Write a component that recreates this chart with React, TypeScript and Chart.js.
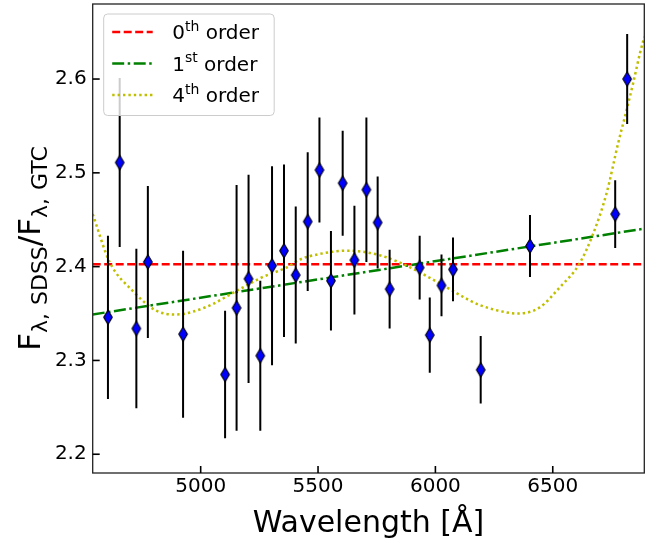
import React, { useEffect, useRef } from 'react';
import { Chart, registerables } from 'chart.js';

Chart.register(...registerables);

// ---- data ----
const wavelength = [4605, 4655, 4726, 4775, 4925, 5104, 5153, 5204, 5254, 5304, 5355, 5405, 5456, 5506, 5555, 5605, 5655, 5706, 5754, 5805, 5933, 5976, 6026, 6075, 6193, 6403, 6766, 6817];
const ratio = [2.346, 2.511, 2.334, 2.405, 2.328, 2.285, 2.356, 2.387, 2.305, 2.401, 2.417, 2.391, 2.448, 2.503, 2.385, 2.489, 2.407, 2.482, 2.447, 2.376, 2.399, 2.327, 2.380, 2.397, 2.290, 2.422, 2.456, 2.600];
const ratioErr = [0.087, 0.090, 0.085, 0.081, 0.089, 0.068, 0.131, 0.111, 0.080, 0.106, 0.092, 0.073, 0.074, 0.056, 0.053, 0.056, 0.058, 0.077, 0.049, 0.042, 0.034, 0.040, 0.033, 0.034, 0.036, 0.033, 0.036, 0.048];

const fit0X = [4540, 6890];
const fit0Y = [2.4025, 2.4025];
const fit1X = [4540, 6890];
const fit1Y = [2.349, 2.4405];
const fit4X = [4540, 4612, 4711, 4811, 4896, 5024, 5152, 5265, 5365, 5422, 5507, 5621, 5706, 5791, 5877, 5962, 6047, 6146, 6189, 6317, 6352, 6445, 6530, 6612, 6672, 6729, 6778, 6814, 6842, 6871, 6890];
const fit4Y = [2.456, 2.405, 2.374, 2.353, 2.349, 2.357, 2.374, 2.389, 2.399, 2.4075, 2.4135, 2.417, 2.4153, 2.41, 2.401, 2.390, 2.378, 2.364, 2.359, 2.3506, 2.350, 2.3566, 2.378, 2.4025, 2.435, 2.478, 2.531, 2.5665, 2.595, 2.627, 2.645];

const xTicks = [5000, 5500, 6000, 6500];
const yTicks = [2.2, 2.3, 2.4, 2.5, 2.6];
const xRange = [4540, 6890];
const yRange = [2.18, 2.68];

const legendNum = ['0', '1', '4'];
const legendSup = ['th', 'st', 'th'];
const legendRest = ' order';
const xTitle = 'Wavelength [Å]';
const yTitleParts = [
  { text: 'F', sub: false, gap: 0 },
  { text: 'λ,', sub: true, gap: 8 },
  { text: 'SDSS', sub: true, gap: 0 },
  { text: '/F', sub: false, gap: 0 },
  { text: 'λ,', sub: true, gap: 8 },
  { text: 'GTC', sub: true, gap: 0 },
];

const FONT = '"DejaVu Sans", sans-serif';
const lineColors = ['#ff0000', '#008000', '#bfbf00'];
const lineDashes = [[8, 3.5], [12, 3.5, 2.5, 3.5], [2.4, 3]];

export default function App() {
  const ref = useRef<HTMLCanvasElement>(null);

  useEffect(() => {
    const canvas = ref.current;
    if (!canvas) return;

    // thin diamond marker
    const diamond = document.createElement('canvas');
    diamond.width = 12;
    diamond.height = 18;
    const dc = diamond.getContext('2d')!;
    dc.beginPath();
    dc.moveTo(6, 1.8);
    dc.lineTo(10.3, 9);
    dc.lineTo(6, 16.2);
    dc.lineTo(1.7, 9);
    dc.closePath();
    dc.fillStyle = '#0000ff';
    dc.fill();
    dc.strokeStyle = '#000000';
    dc.lineWidth = 1.1;
    dc.stroke();

    const errorBars = {
      id: 'errorBars',
      beforeDatasetDraw(chart: any, args: any) {
        if (args.index !== 0) return;
        const { ctx, scales, chartArea } = chart;
        ctx.save();
        ctx.beginPath();
        ctx.rect(chartArea.left, chartArea.top, chartArea.right - chartArea.left, chartArea.bottom - chartArea.top);
        ctx.clip();
        ctx.strokeStyle = '#000000';
        ctx.lineWidth = 2;
        wavelength.forEach((w, i) => {
          const x = scales.x.getPixelForValue(w);
          const y1 = scales.y.getPixelForValue(ratio[i] + ratioErr[i]);
          const y2 = scales.y.getPixelForValue(ratio[i] - ratioErr[i]);
          ctx.beginPath();
          ctx.moveTo(x, y1);
          ctx.lineTo(x, y2);
          ctx.stroke();
        });
        ctx.restore();
      },
    };

    const decorations = {
      id: 'decorations',
      afterDraw(chart: any) {
        const { ctx, chartArea, scales } = chart;
        const { left, right, top, bottom } = chartArea;
        ctx.save();
        // frame
        ctx.strokeStyle = '#222222';
        ctx.lineWidth = 1.3;
        ctx.strokeRect(left, top, right - left, bottom - top);
        // inward ticks
        ctx.strokeStyle = '#000000';
        ctx.lineWidth = 1.6;
        xTicks.forEach((v) => {
          const x = scales.x.getPixelForValue(v);
          ctx.beginPath();
          ctx.moveTo(x, bottom);
          ctx.lineTo(x, bottom - 7);
          ctx.stroke();
        });
        yTicks.forEach((v) => {
          const y = scales.y.getPixelForValue(v);
          ctx.beginPath();
          ctx.moveTo(left, y);
          ctx.lineTo(left + 7, y);
          ctx.stroke();
        });

        // legend
        const bx = left + 11;
        const by = top + 10;
        const bw = 170.5;
        const bh = 101.5;
        ctx.beginPath();
        ctx.roundRect(bx, by, bw, bh, 4);
        ctx.fillStyle = 'rgba(255,255,255,0.8)';
        ctx.fill();
        ctx.strokeStyle = '#cccccc';
        ctx.lineWidth = 1;
        ctx.stroke();
        for (let i = 0; i < 3; i++) {
          const cy = by + 18 + i * 31.5;
          ctx.beginPath();
          ctx.setLineDash(lineDashes[i]);
          ctx.strokeStyle = lineColors[i];
          ctx.lineWidth = 2.5;
          ctx.moveTo(bx + 8.5, cy);
          ctx.lineTo(bx + 49, cy);
          ctx.stroke();
          ctx.setLineDash([]);
          ctx.fillStyle = '#000000';
          ctx.textBaseline = 'alphabetic';
          ctx.textAlign = 'left';
          let tx = bx + 68.5;
          const base = cy + 7.3;
          ctx.font = `20px ${FONT}`;
          ctx.fillText(legendNum[i], tx, base);
          tx += ctx.measureText(legendNum[i]).width;
          ctx.font = `14px ${FONT}`;
          ctx.fillText(legendSup[i], tx, base - 8.5);
          tx += ctx.measureText(legendSup[i]).width;
          ctx.font = `20px ${FONT}`;
          ctx.fillText(legendRest, tx, base);
        }

        // y title
        const mainSize = 31;
        const subSize = 22;
        ctx.save();
        ctx.translate(40, (top + bottom) / 2 + 10);
        ctx.rotate(-Math.PI / 2);
        ctx.fillStyle = '#000000';
        ctx.textBaseline = 'alphabetic';
        ctx.textAlign = 'left';
        const widths = yTitleParts.map((p) => {
          ctx.font = `${p.sub ? subSize : mainSize}px ${FONT}`;
          return ctx.measureText(p.text).width + p.gap;
        });
        const total = widths.reduce((a, b) => a + b, 0);
        let x = -total / 2;
        yTitleParts.forEach((p, i) => {
          ctx.font = `${p.sub ? subSize : mainSize}px ${FONT}`;
          ctx.fillText(p.text, x, p.sub ? 7 : 0);
          x += widths[i];
        });
        ctx.restore();
        ctx.restore();
      },
    };

    const toXY = (xs: number[], ys: number[]) => xs.map((x, i) => ({ x, y: ys[i] }));

    const chart = new Chart(canvas, {
      type: 'scatter',
      data: {
        datasets: [
          {
            label: 'data',
            data: toXY(wavelength, ratio),
            showLine: false,
            pointStyle: diamond as any,
            pointRadius: 6,
            order: 0,
          },
          {
            label: '0th order',
            data: toXY(fit0X, fit0Y),
            showLine: true,
            borderColor: lineColors[0],
            borderWidth: 2.5,
            borderDash: lineDashes[0],
            pointRadius: 0,
            order: 3,
          },
          {
            label: '1st order',
            data: toXY(fit1X, fit1Y),
            showLine: true,
            borderColor: lineColors[1],
            borderWidth: 2.5,
            borderDash: lineDashes[1],
            pointRadius: 0,
            order: 2,
          },
          {
            label: '4th order',
            data: toXY(fit4X, fit4Y),
            showLine: true,
            borderColor: lineColors[2],
            borderWidth: 2.5,
            borderDash: lineDashes[2],
            pointRadius: 0,
            cubicInterpolationMode: 'monotone',
            order: 1,
          },
        ],
      },
      options: {
        animation: false,
        responsive: false,
        maintainAspectRatio: false,
        layout: { padding: { left: 0, right: 16.7, top: 0, bottom: 0 } },
        plugins: {
          legend: { display: false },
          tooltip: { enabled: false },
          title: { display: false },
        },
        scales: {
          x: {
            type: 'linear',
            min: xRange[0],
            max: xRange[1],
            afterBuildTicks: (s: any) => {
              s.ticks = xTicks.map((v) => ({ value: v }));
            },
            afterFit: (s: any) => {
              s.height = 70;
              s.paddingLeft = 0;
              s.paddingRight = 0;
            },
            grid: { display: false, drawTicks: false },
            border: { display: false },
            ticks: {
              color: '#000000',
              font: { family: FONT, size: 20 },
              padding: 2,
              maxRotation: 0,
              callback: (v: any) => String(v),
            },
            title: {
              display: true,
              text: xTitle,
              color: '#000000',
              font: { family: FONT, size: 30 },
              padding: { top: 0, bottom: 1 },
            },
          },
          y: {
            type: 'linear',
            min: yRange[0],
            max: yRange[1],
            afterBuildTicks: (s: any) => {
              s.ticks = yTicks.map((v) => ({ value: v }));
            },
            afterFit: (s: any) => {
              s.width = 92.7;
              s.paddingTop = 0;
              s.paddingBottom = 0;
            },
            grid: { display: false, drawTicks: false },
            border: { display: false },
            ticks: {
              color: '#000000',
              font: { family: FONT, size: 20 },
              padding: 6,
              callback: (v: any) => Number(v).toFixed(1),
            },
          },
        },
      },
      plugins: [errorBars, decorations],
    } as any);

    return () => chart.destroy();
  }, []);

  return (
    <div style={{ position: 'absolute', left: 0, top: 0, width: 661, height: 543, overflow: 'hidden', background: '#ffffff' }}>
      <canvas
        ref={ref}
        width={661}
        height={546}
        style={{ position: 'absolute', left: 0, top: -3, width: 661, height: 546, display: 'block' }}
      />
    </div>
  );
}
